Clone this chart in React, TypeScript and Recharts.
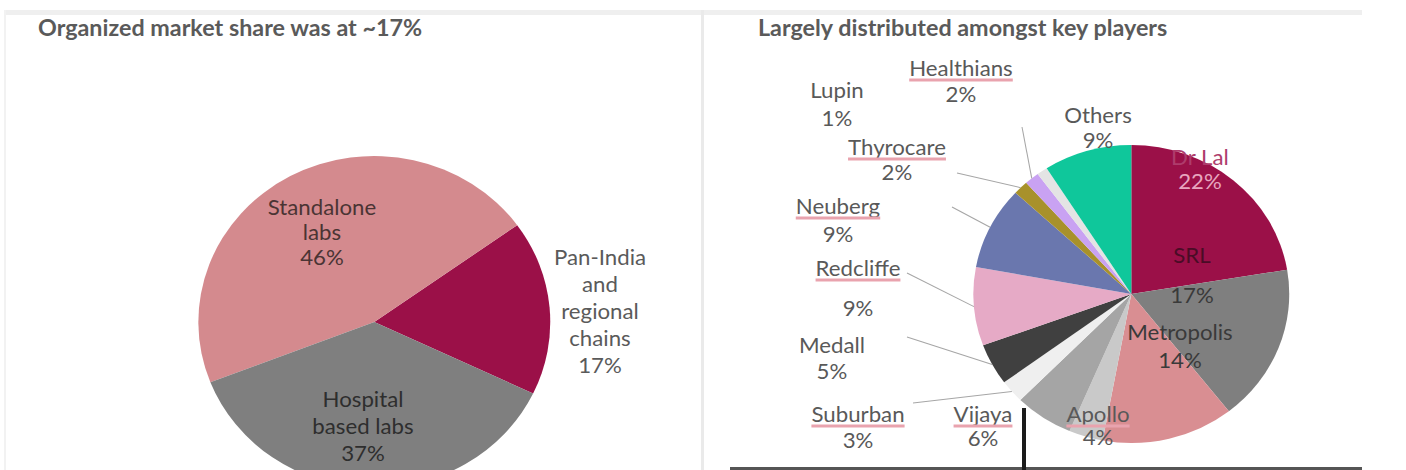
import React from 'react';
import { PieChart, Pie, Cell } from 'recharts';

// the source picture is stretched a little sideways, so the chart is drawn
// narrower and widened back with a CSS scale
const SX = 1.06;
const W = 1406;
const H = 470;
const CW = Math.round(W / SX);
const FONT = 'Lato, "Liberation Sans", sans-serif';

const mixNames = ['Pan-India and regional chains', 'Standalone labs', 'Hospital based labs'];
const mixValues = [17, 46, 37];
const mixColors = ['#9B1048', '#D48A8E', '#7F7F7F'];

const playerNames = [
  'Dr Lal', 'SRL', 'Metropolis', 'Apollo', 'Vijaya', 'Suburban', 'Medall',
  'Redcliffe', 'Neuberg', 'Thyrocare', 'Healthians', 'Lupin', 'Others',
];
const playerValues = [22.4, 17, 13.5, 3.5, 6, 2.5, 4.5, 8.5, 9, 1.5, 1.5, 1.1, 9];
const playerColors = [
  '#9B1048', '#7F7F7F', '#D98E92', '#C9C9C9', '#A5A5A5', '#EFEFEF', '#404040',
  '#E6AAC6', '#6A77AE', '#A8912B', '#C9A2F2', '#E4E4E4', '#0FC79B',
];

const mixData = mixNames.map((name, i) => ({ name, value: mixValues[i] }));
const playerData = playerNames.map((name, i) => ({ name, value: playerValues[i] }));

// label placement, in screen pixels (as in the picture)
type LabelSpot = {
  x: number;
  ys: number[];
  lines?: string[];
  fill?: string[];
  underline?: boolean;
  from?: [number, number];
};

const mixLabels: LabelSpot[] = [
  { x: 600, ys: [257, 284, 311, 338, 365], lines: ['Pan-India', 'and', 'regional', 'chains'], fill: ['#5a5a5a'] },
  { x: 322, ys: [207, 232, 257], lines: ['Standalone', 'labs'], fill: ['#4a3434'] },
  { x: 363, ys: [399, 426, 453], lines: ['Hospital', 'based labs'], fill: ['#2e2e2e'] },
];

const playerLabels: LabelSpot[] = [
  { x: 1200, ys: [157, 181], fill: ['#AE3C6C', '#E8A6BF'] },
  { x: 1192, ys: [255, 295], fill: ['#4a0c26', '#3a3a3a'] },
  { x: 1180, ys: [332, 360], fill: ['#3a3a3a'] },
  { x: 1098, ys: [414, 437], underline: true },
  { x: 983, ys: [414, 438], underline: true },
  { x: 858, ys: [414, 440], underline: true, from: [913, 403] },
  { x: 832, ys: [345, 371], from: [907, 337] },
  { x: 858, ys: [268, 308], underline: true, from: [907, 273] },
  { x: 838, ys: [206, 234], underline: true, from: [952, 207] },
  { x: 897, ys: [147, 172], underline: true, from: [957, 173] },
  { x: 961, ys: [68, 94], underline: true, from: [1022, 127] },
  { x: 837, ys: [90, 118] },
  { x: 1098, ys: [115, 140] },
];

const LABEL_SIZE = 21;
const RAD = Math.PI / 180;

let ctx: CanvasRenderingContext2D | null = null;
const textWidth = (s: string) => {
  if (!ctx) ctx = document.createElement('canvas').getContext('2d');
  if (!ctx) return s.length * 10;
  ctx.font = `${LABEL_SIZE}px ${FONT}`;
  return ctx.measureText(s).width;
};

const makeLabel = (spots: LabelSpot[]) => (props: any) => {
  const { index, cx, cy, midAngle, outerRadius, name, value } = props;
  const spot = spots[index];
  if (!spot) return null;
  const lines = [...(spot.lines || [name]), `${Math.round(value)}%`];
  const x = spot.x / SX;
  const ex = cx + outerRadius * Math.cos(-midAngle * RAD);
  const ey = cy + outerRadius * Math.sin(-midAngle * RAD);
  return (
    <g key={`lab-${index}`}>
      {spot.from && (
        <line x1={spot.from[0] / SX} y1={spot.from[1]} x2={ex} y2={ey} stroke="#A6A6A6" strokeWidth={1} />
      )}
      {lines.map((t, i) => {
        const fill = spot.fill ? spot.fill[Math.min(i, spot.fill.length - 1)] : '#595959';
        return (
          <text
            key={i}
            x={x}
            y={spot.ys[i]}
            textAnchor="middle"
            dominantBaseline="central"
            fontFamily={FONT}
            fontSize={LABEL_SIZE}
            fill={fill}
          >
            {t}
          </text>
        );
      })}
      {spot.underline && (
        <line
          x1={x - textWidth(lines[0]) / 2}
          x2={x + textWidth(lines[0]) / 2}
          y1={spot.ys[0] + 12}
          y2={spot.ys[0] + 12}
          stroke="#E9A3AE"
          strokeWidth={3}
        />
      )}
    </g>
  );
};

const titleStyle: React.CSSProperties = {
  position: 'absolute',
  top: 17,
  fontFamily: FONT,
  fontSize: 22,
  fontWeight: 700,
  lineHeight: '22px',
  color: '#5a5a5a',
  whiteSpace: 'nowrap',
};

const box = (left: number, top: number, width: number, height: number, bg: string): React.CSSProperties => ({
  position: 'absolute', left, top, width, height, background: bg,
});

export default function App() {
  return (
    <div style={{ position: 'absolute', left: 0, top: 0, width: W, height: H, background: '#fff', overflow: 'hidden' }}>
      <div style={box(5, 10, 1357, 5, '#EFEFEF')} />
      <div style={box(4, 10, 2, 460, '#F2F2F2')} />
      <div style={box(701, 10, 3, 460, '#EAEAEA')} />
      <div style={{ position: 'absolute', left: 0, top: 0, width: CW, height: H, transform: `scaleX(${SX})`, transformOrigin: '0 0' }}>
        <div style={{ ...titleStyle, left: 38 / SX }}>Organized market share was at ~17%</div>
        <div style={{ ...titleStyle, left: 758 / SX }}>Largely distributed amongst key players</div>
        <PieChart width={CW} height={H}>
          <Pie
            data={mixData}
            dataKey="value"
            nameKey="name"
            cx={369 / SX}
            cy={317}
            outerRadius={166}
            startAngle={-25.5}
            endAngle={334.5}
            stroke="none"
            isAnimationActive={false}
            label={makeLabel(mixLabels)}
            labelLine={false}
          >
            {mixData.map((d, i) => (
              <Cell key={d.name} fill={mixColors[i]} />
            ))}
          </Pie>
          <Pie
            data={playerData}
            dataKey="value"
            nameKey="name"
            cx={1126 / SX}
            cy={289}
            outerRadius={149}
            startAngle={90}
            endAngle={-270}
            stroke="none"
            isAnimationActive={false}
            label={makeLabel(playerLabels)}
            labelLine={false}
          >
            {playerData.map((d, i) => (
              <Cell key={d.name} fill={playerColors[i]} />
            ))}
          </Pie>
        </PieChart>
      </div>
      <div style={box(730, 467, 632, 3, '#555555')} />
      <div style={box(1022, 408, 4, 62, '#1b1b1b')} />
    </div>
  );
}
